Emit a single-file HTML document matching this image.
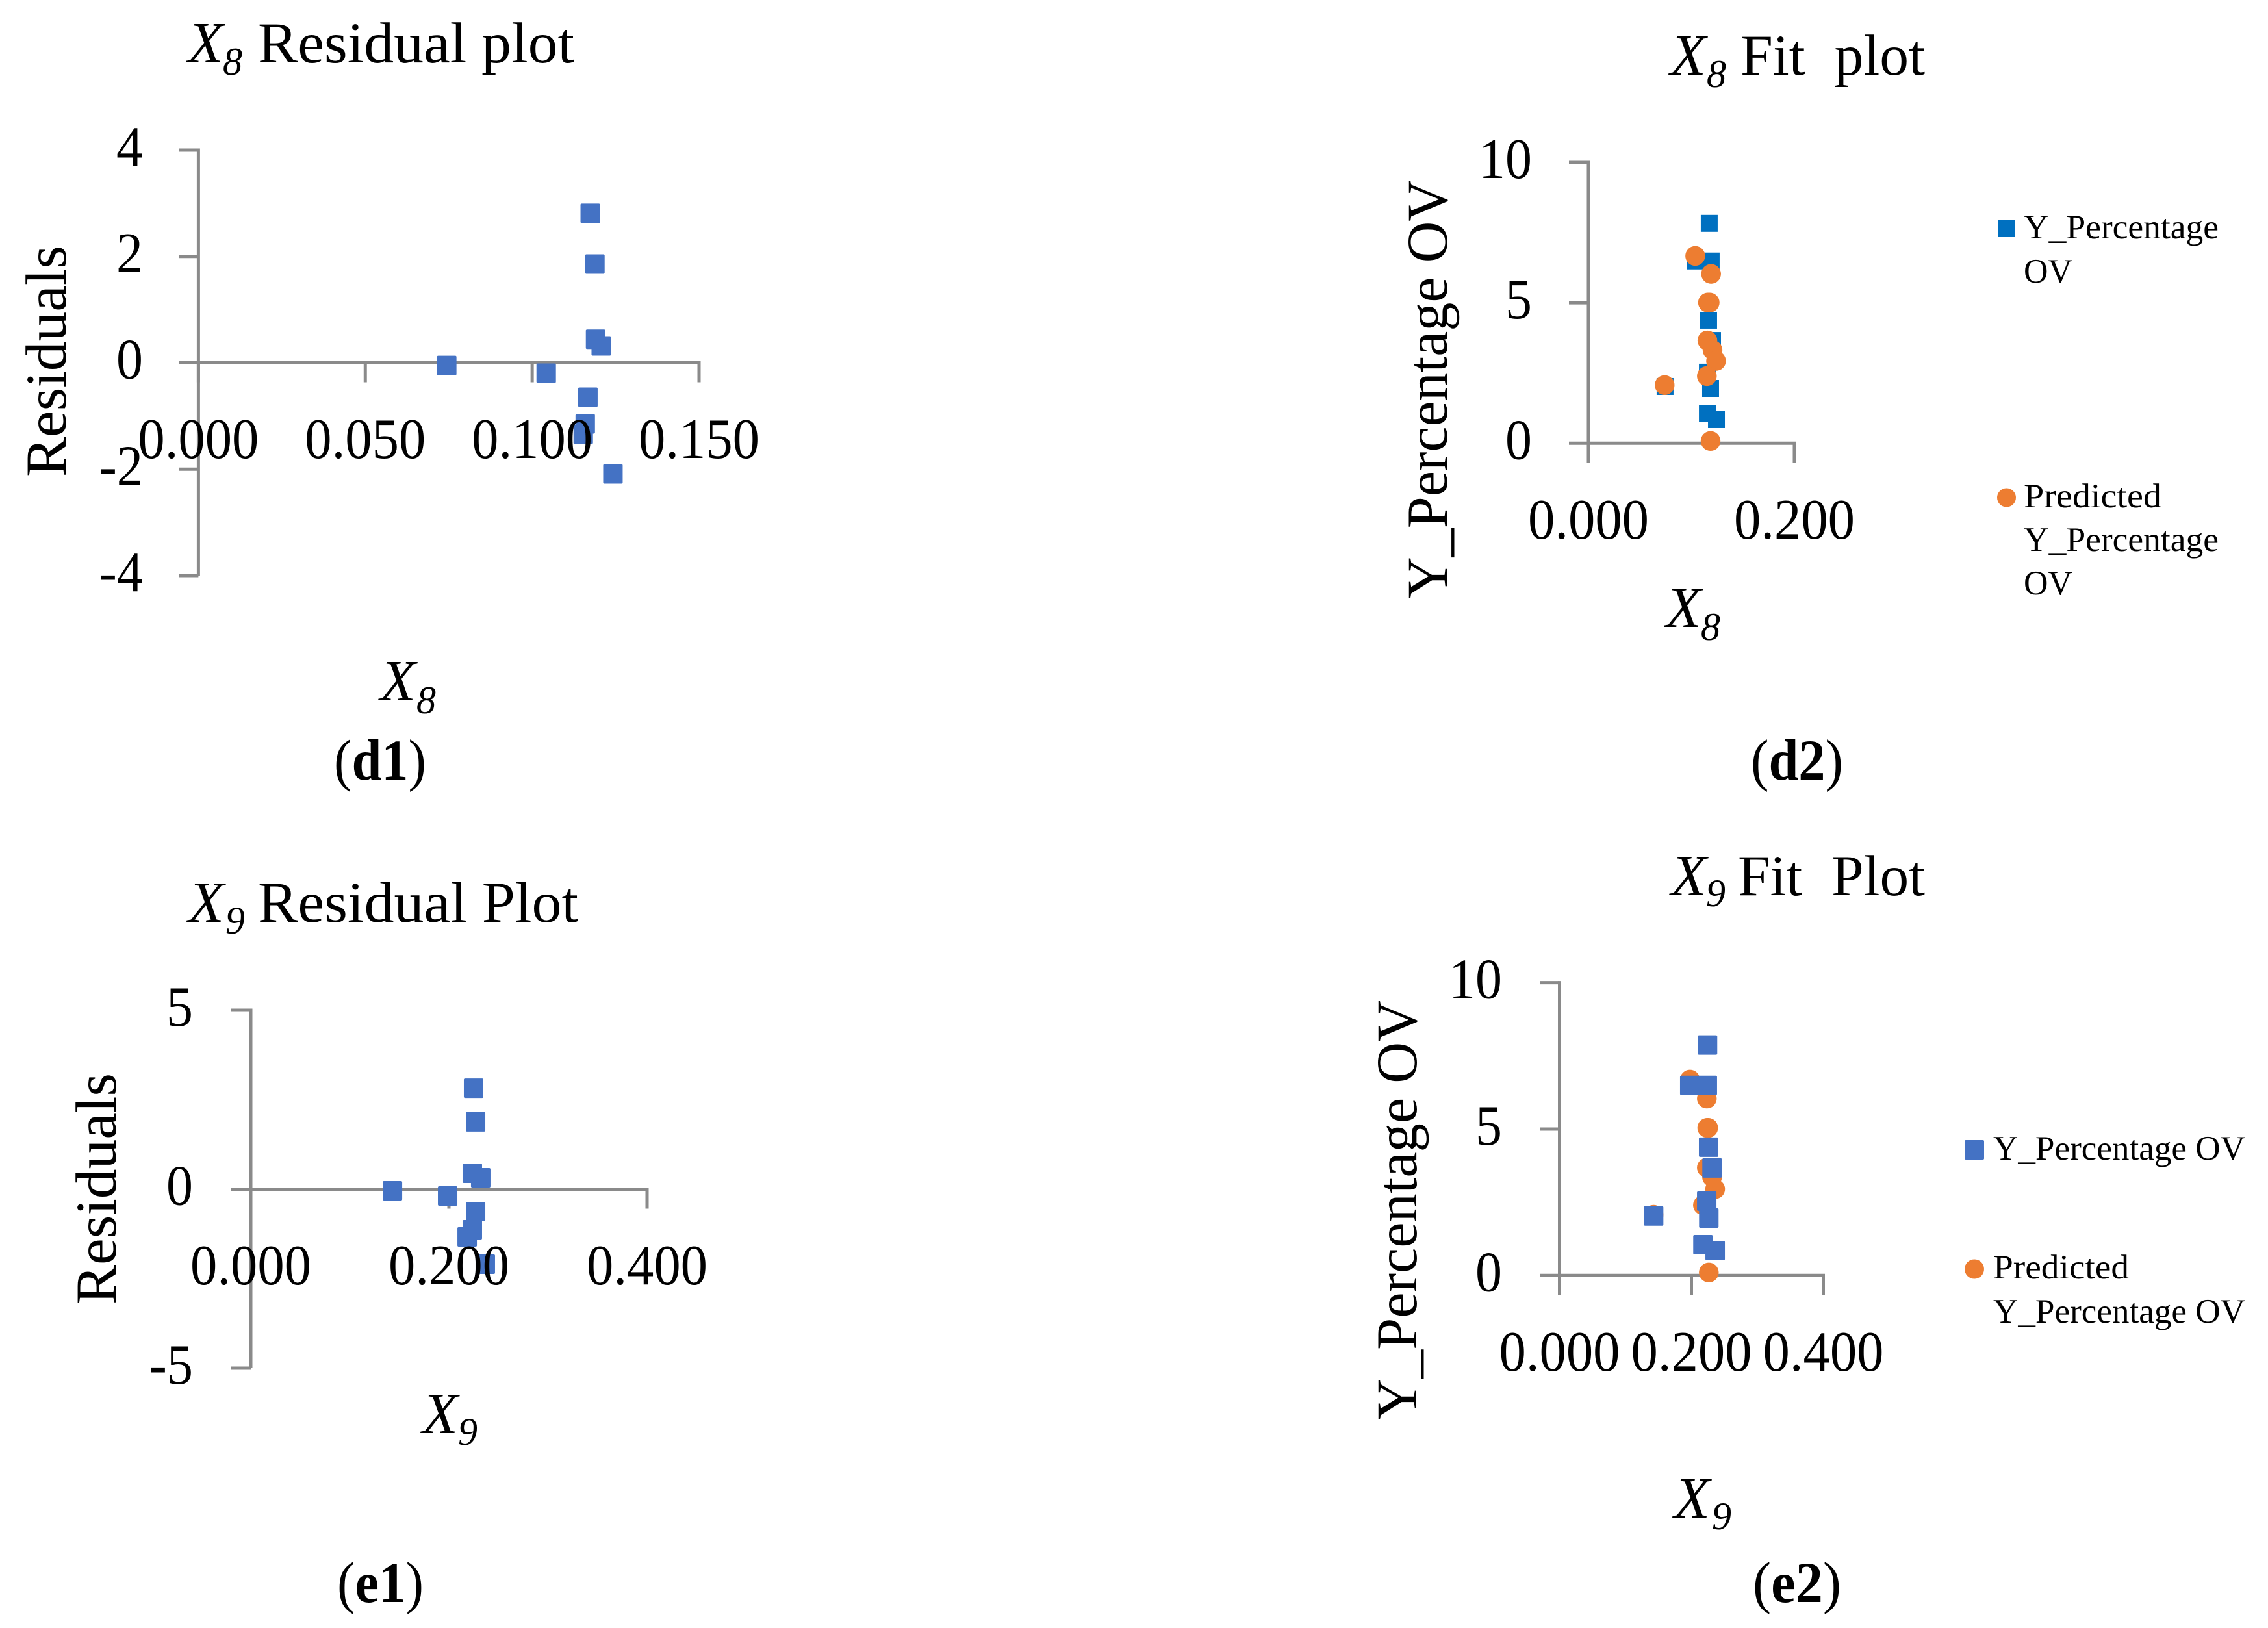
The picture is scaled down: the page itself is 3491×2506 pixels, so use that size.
<!DOCTYPE html>
<html lang="en">
<head>
<meta charset="utf-8">
<title>X8 and X9 residual and fit plots</title>
<style>
  html, body { margin: 0; padding: 0; background: #ffffff; }
  svg { display: block; }
  text { font-family: "Liberation Serif", "DejaVu Serif", serif; fill: #000000; }
  .big { font-size: 89px; }
  .sub { font-size: 60px; font-style: italic; }
  .ix { font-size: 90px; font-style: italic; }
  .leg { font-size: 53px; }
  .tick { font-size: 88px; }
  .bold { font-weight: bold; }
</style>
</head>
<body>
<svg id="figure" xmlns="http://www.w3.org/2000/svg" width="3491" height="2506" viewBox="0 0 3491 2506">
  <rect x="0" y="0" width="3491" height="2506" fill="#ffffff"/>
  <g id="marks"></g>
  <g id="ticks"></g>

  <g>
    <g>
      <text class="ix" x="289" y="96">X</text>
      <text class="sub" x="343" y="115">8</text>
      <text class="big" x="397" y="96" textLength="487" lengthAdjust="spacingAndGlyphs">Residual plot</text>
    </g>
    <text class="big" transform="translate(101,734) rotate(-90)" textLength="356" lengthAdjust="spacingAndGlyphs">Residuals</text>
    <g>
      <text class="ix" x="585" y="1078">X</text>
      <text class="sub" x="641" y="1098">8</text>
    </g>
    <text class="big" x="514" y="1200" textLength="142" lengthAdjust="spacingAndGlyphs">(<tspan class="bold">d1</tspan>)</text>
  </g>

  <g>
    <g>
      <text class="ix" x="2571" y="115">X</text>
      <text class="sub" x="2627" y="134">8</text>
      <text class="big" x="2679" y="115" textLength="284" lengthAdjust="spacingAndGlyphs" xml:space="preserve">Fit  plot</text>
    </g>
    <text class="big" transform="translate(2227,921) rotate(-90)" textLength="644" lengthAdjust="spacingAndGlyphs">Y_Percentage OV</text>
    <g>
      <text class="ix" x="2564" y="965">X</text>
      <text class="sub" x="2618" y="985">8</text>
    </g>
    <text class="big" x="2695" y="1200" textLength="142" lengthAdjust="spacingAndGlyphs">(<tspan class="bold">d2</tspan>)</text>
    <g>
      <g>
        <rect x="3075" y="339" width="26" height="26" fill="#0070C0"/>
        <text class="leg" x="3115" y="367" textLength="300" lengthAdjust="spacingAndGlyphs">Y_Percentage</text>
        <text class="leg" x="3115" y="435" textLength="75" lengthAdjust="spacingAndGlyphs">OV</text>
      </g>
      <g>
        <circle cx="3088.5" cy="766" r="14.5" fill="#ED7D31"/>
        <text class="leg" x="3115" y="781" textLength="212" lengthAdjust="spacingAndGlyphs">Predicted</text>
        <text class="leg" x="3115" y="848" textLength="300" lengthAdjust="spacingAndGlyphs">Y_Percentage</text>
        <text class="leg" x="3115" y="915" textLength="75" lengthAdjust="spacingAndGlyphs">OV</text>
      </g>
    </g>
  </g>

  <g>
    <g>
      <text class="ix" x="290" y="1419">X</text>
      <text class="sub" x="347" y="1437">9</text>
      <text class="big" x="397" y="1419" textLength="493" lengthAdjust="spacingAndGlyphs">Residual Plot</text>
    </g>
    <text class="big" transform="translate(178,2008) rotate(-90)" textLength="356" lengthAdjust="spacingAndGlyphs">Residuals</text>
    <g>
      <text class="ix" x="650" y="2206">X</text>
      <text class="sub" x="705" y="2224">9</text>
    </g>
    <text class="big" x="519" y="2466" textLength="133" lengthAdjust="spacingAndGlyphs">(<tspan class="bold">e1</tspan>)</text>
  </g>

  <g>
    <g>
      <text class="ix" x="2572" y="1378">X</text>
      <text class="sub" x="2626" y="1395">9</text>
      <text class="big" x="2675" y="1378" textLength="288" lengthAdjust="spacingAndGlyphs" xml:space="preserve">Fit  Plot</text>
    </g>
    <text class="big" transform="translate(2180,2186) rotate(-90)" textLength="646" lengthAdjust="spacingAndGlyphs">Y_Percentage OV</text>
    <g>
      <text class="ix" x="2577" y="2336">X</text>
      <text class="sub" x="2635" y="2354">9</text>
    </g>
    <text class="big" x="2698" y="2466" textLength="136" lengthAdjust="spacingAndGlyphs">(<tspan class="bold">e2</tspan>)</text>
    <g>
      <g>
        <rect x="3024" y="1755" width="30" height="30" rx="2" fill="#4472C4"/>
        <text class="leg" x="3068" y="1785" textLength="388" lengthAdjust="spacingAndGlyphs">Y_Percentage OV</text>
      </g>
      <g>
        <circle cx="3039" cy="1953.5" r="15" fill="#ED7D31"/>
        <text class="leg" x="3068" y="1968" textLength="209" lengthAdjust="spacingAndGlyphs">Predicted</text>
        <text class="leg" x="3068" y="2036" textLength="388" lengthAdjust="spacingAndGlyphs">Y_Percentage OV</text>
      </g>
    </g>
  </g>
</svg>

<script>
// Panel d1: X8 residuals
const d1X = [0.1174, 0.1188, 0.1190, 0.1207, 0.0744, 0.1042, 0.1167, 0.1159, 0.1153, 0.1242];
const d1Residuals = [2.81, 1.856, 0.443, 0.317, -0.05, -0.195, -0.647, -1.148, -1.343, -2.088];
const d1XTicks = ['0.000', '0.050', '0.100', '0.150'];
const d1YTicks = ['4', '2', '0', '-2', '-4'];

// Panel d2: X8 fit
const d2X = [0.1173, 0.1041, 0.1192, 0.1167, 0.1205, 0.1155, 0.1186, 0.0744, 0.1155, 0.1243];
const d2Actual = [7.83, 6.49, 6.49, 4.38, 3.66, 2.53, 1.95, 2.02, 1.05, 0.84];
const d2PredX = [0.1037, 0.1191, 0.1161, 0.1177, 0.1155, 0.1205, 0.1239, 0.1150, 0.0740, 0.1186];
const d2Predicted = [6.67, 6.03, 5.01, 5.01, 3.66, 3.32, 2.93, 2.39, 2.07, 0.08];
const d2XTicks = ['0.000', '0.200'];
const d2YTicks = ['10', '5', '0'];

// Panel e1: X9 residuals
const e1X = [0.2249, 0.2269, 0.2236, 0.2321, 0.1430, 0.1987, 0.2269, 0.2236, 0.2184, 0.2367];
const e1Residuals = [2.82, 1.88, 0.445, 0.318, -0.045, -0.19, -0.626, -1.134, -1.334, -2.096];
const e1XTicks = ['0.000', '0.200', '0.400'];
const e1YTicks = ['5', '0', '-5'];

// Panel e2: X9 fit
const e2X = [0.2244, 0.1975, 0.2241, 0.2261, 0.2313, 0.2232, 0.2264, 0.1427, 0.2175, 0.2360];
const e2Actual = [7.87, 6.49, 6.49, 4.38, 3.67, 2.54, 1.96, 2.03, 1.05, 0.85];
const e2PredX = [0.1978, 0.2234, 0.2254, 0.2240, 0.2234, 0.2313, 0.2360, 0.2175, 0.1427, 0.2264];
const e2Predicted = [6.69, 6.04, 5.04, 5.04, 3.68, 3.36, 2.95, 2.40, 2.07, 0.10];
const e2XTicks = ['0.000', '0.200', '0.400'];
const e2YTicks = ['10', '5', '0'];

const NS = 'http://www.w3.org/2000/svg';
const marksLayer = document.getElementById('marks');
const ticksLayer = document.getElementById('ticks');
const AXIS = '#8A8A8A';

function axisLine(x1, y1, x2, y2) {
  const el = document.createElementNS(NS, 'line');
  
  
  el.setAttribute('x1', x1);
  el.setAttribute('y1', y1);
  el.setAttribute('x2', x2);
  el.setAttribute('y2', y2);
  el.setAttribute('stroke', AXIS);
  el.setAttribute('stroke-width', 5);
  marksLayer.appendChild(el);
}

function xTickLabel(label, x, y, width) {
  const el = document.createElementNS(NS, 'text');
  
  
  el.setAttribute('class', 'tick');
  el.setAttribute('x', x - width / 2);
  el.setAttribute('y', y);
  el.setAttribute('textLength', width);
  el.setAttribute('lengthAdjust', 'spacingAndGlyphs');
  el.textContent = label;
  ticksLayer.appendChild(el);
}

function yTickLabel(label, x, y) {
  const width = label.replace('-', '').length * 41 + (label.charAt(0) === '-' ? 26 : 0);
  const el = document.createElementNS(NS, 'text');
  
  
  el.setAttribute('class', 'tick');
  el.setAttribute('x', x - width);
  el.setAttribute('y', y);
  el.setAttribute('textLength', width);
  el.setAttribute('lengthAdjust', 'spacingAndGlyphs');
  el.textContent = label;
  ticksLayer.appendChild(el);
}

function squareMark(cx, cy, size, color) {
  const el = document.createElementNS(NS, 'rect');
  
  
  el.setAttribute('x', cx - size / 2);
  el.setAttribute('y', cy - size / 2);
  el.setAttribute('width', size);
  el.setAttribute('height', size);
  el.setAttribute('rx', color === '#4472C4' ? 2 : 0);
  el.setAttribute('fill', color);
  marksLayer.appendChild(el);
}

function circleMark(cx, cy, r, color) {
  const el = document.createElementNS(NS, 'circle');
  
  
  el.setAttribute('cx', cx);
  el.setAttribute('cy', cy);
  el.setAttribute('r', r);
  el.setAttribute('fill', color);
  marksLayer.appendChild(el);
}

// frame: left/right pixels of the x domain, pixels of yMax/yMin, zero line position comes from the y scale
function makeChart(frame, xTicks, yTicks) {
  const xMin = parseFloat(xTicks[0]);
  const xMax = parseFloat(xTicks[xTicks.length - 1]);
  const yMax = parseFloat(yTicks[0]);
  const yMin = parseFloat(yTicks[yTicks.length - 1]);
  const sx = v => frame.left + (v - xMin) / (xMax - xMin) * (frame.right - frame.left);
  const sy = v => frame.top + (yMax - v) / (yMax - yMin) * (frame.bottom - frame.top);
  const zero = sy(0);
  const len = 30;
  const axisBottom = Math.max(frame.bottom, zero + len);
  axisLine(frame.left, frame.top - 2.5, frame.left, axisBottom);
  axisLine(frame.left, zero, frame.right + 2.5, zero);
  yTicks.forEach(t => {
    const y = sy(parseFloat(t));
    axisLine(frame.left - len, y, frame.left, y);
    yTickLabel(t, frame.yLabelX, y + 24);
  });
  xTicks.forEach(t => {
    const x = sx(parseFloat(t));
    axisLine(x, zero, x, zero + len);
    xTickLabel(t, x, frame.xLabelY, 186);
  });
  return { sx, sy };
}

const d1 = makeChart({ left: 305.4, right: 1076, top: 231, bottom: 886, yLabelX: 220, xLabelY: 705 }, d1XTicks, d1YTicks);
d1X.forEach((x, i) => squareMark(d1.sx(x), d1.sy(d1Residuals[i]), 30, '#4472C4'));

const d2 = makeChart({ left: 2445, right: 2762, top: 250, bottom: 682.3, yLabelX: 2358, xLabelY: 829 }, d2XTicks, d2YTicks);
d2X.forEach((x, i) => squareMark(d2.sx(x), d2.sy(d2Actual[i]), 26, '#0070C0'));
d2PredX.forEach((x, i) => circleMark(d2.sx(x), d2.sy(d2Predicted[i]), 15.2, '#ED7D31'));

const e1 = makeChart({ left: 386, right: 996, top: 1555, bottom: 2106, yLabelX: 297, xLabelY: 1977 }, e1XTicks, e1YTicks);
e1X.forEach((x, i) => squareMark(e1.sx(x), e1.sy(e1Residuals[i]), 30, '#4472C4'));

const e2 = makeChart({ left: 2400.5, right: 2806.5, top: 1512.6, bottom: 1963.3, yLabelX: 2312, xLabelY: 2110 }, e2XTicks, e2YTicks);
e2PredX.forEach((x, i) => circleMark(e2.sx(x), e2.sy(e2Predicted[i]), 15.2, '#ED7D31'));
e2X.forEach((x, i) => squareMark(e2.sx(x), e2.sy(e2Actual[i]), 30, '#4472C4'));
</script>
</body>
</html>
